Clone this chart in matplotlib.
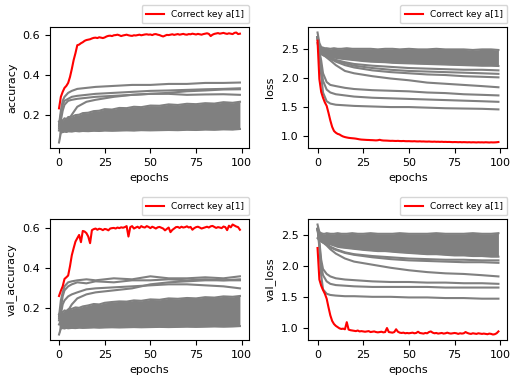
import numpy as np
from matplotlib import pyplot as plt

plt.rcParams['font.size'] = 8

epochs = np.arange(100)
sample_epochs = [0, 1, 2, 3, 5, 7, 10, 15, 20, 30, 40, 50, 60, 70, 80, 90, 99]
# edges of the dense gray bundle
band_epochs = [0, 1, 2, 3, 4, 5, 7, 9, 11, 13, 16, 19, 22, 25, 29, 33, 37, 41, 45,
               50, 55, 60, 65, 70, 75, 80, 85, 90, 95, 99]
label = "Correct key a[1]"

# ---- accuracy ----
acc_red = [0.232, 0.29, 0.315, 0.335, 0.345, 0.36, 0.39, 0.43, 0.475, 0.51,
           0.55, 0.553, 0.56, 0.565, 0.572, 0.576, 0.578, 0.58, 0.584, 0.587,
           0.588, 0.586, 0.59, 0.588, 0.586, 0.589, 0.594, 0.597, 0.598, 0.596,
           0.60, 0.601, 0.603, 0.60, 0.596, 0.599, 0.601, 0.603, 0.60, 0.598,
           0.597, 0.60, 0.599, 0.601, 0.603, 0.60, 0.602, 0.604, 0.605, 0.603,
           0.604, 0.601, 0.605, 0.606, 0.603, 0.601, 0.597, 0.594, 0.598, 0.602,
           0.601, 0.603, 0.605, 0.602, 0.604, 0.606, 0.603, 0.605, 0.607, 0.604,
           0.603, 0.606, 0.605, 0.608, 0.606, 0.604, 0.607, 0.605, 0.603, 0.606,
           0.608, 0.61, 0.607, 0.596, 0.603, 0.607, 0.609, 0.611, 0.608, 0.61,
           0.612, 0.609, 0.607, 0.61, 0.608, 0.606, 0.612, 0.614, 0.606, 0.608]
acc_band_lo = [0.06, 0.11, 0.112, 0.115, 0.113, 0.116, 0.115, 0.118, 0.116, 0.118,
               0.117, 0.119, 0.118, 0.12, 0.119, 0.12, 0.121, 0.12, 0.122, 0.121,
               0.122, 0.123, 0.122, 0.124, 0.123, 0.125, 0.124, 0.126, 0.125, 0.128]
acc_band_hi = [0.165, 0.175, 0.17, 0.182, 0.178, 0.188, 0.19, 0.198, 0.20, 0.208,
               0.21, 0.218, 0.22, 0.228, 0.226, 0.234, 0.233, 0.24, 0.238, 0.246,
               0.245, 0.252, 0.249, 0.255, 0.253, 0.258, 0.256, 0.263, 0.26, 0.265]
acc_g1 = [0.15, 0.22, 0.27, 0.29, 0.31, 0.32, 0.33, 0.335, 0.34, 0.345, 0.35, 0.35, 0.355, 0.355, 0.36, 0.36, 0.362]
acc_g2 = [0.14, 0.20, 0.25, 0.27, 0.28, 0.29, 0.295, 0.30, 0.305, 0.31, 0.315, 0.32, 0.322, 0.325, 0.328, 0.33, 0.333]
acc_g3 = [0.13, 0.17, 0.22, 0.25, 0.27, 0.275, 0.28, 0.285, 0.29, 0.295, 0.30, 0.305, 0.305, 0.30, 0.302, 0.303, 0.30]
acc_g4 = [0.12, 0.14, 0.15, 0.16, 0.17, 0.20, 0.24, 0.265, 0.275, 0.29, 0.30, 0.305, 0.31, 0.318, 0.322, 0.327, 0.328]

# ---- loss ----
loss_red = [2.64, 1.98, 1.76, 1.66, 1.58, 1.52, 1.40, 1.27, 1.16, 1.09,
            1.06, 1.04, 1.03, 1.01, 0.995, 0.985, 0.978, 0.972, 0.968, 0.965,
            0.962, 0.958, 0.952, 0.946, 0.942, 0.94, 0.938, 0.936, 0.935, 0.933,
            0.932, 0.93, 0.928, 0.931, 0.938, 0.93, 0.926, 0.925, 0.924, 0.922,
            0.92, 0.921, 0.919, 0.918, 0.92, 0.917, 0.916, 0.918, 0.915, 0.914,
            0.915, 0.913, 0.912, 0.914, 0.911, 0.91, 0.912, 0.909, 0.91, 0.908,
            0.907, 0.909, 0.906, 0.905, 0.907, 0.904, 0.905, 0.903, 0.905, 0.902,
            0.903, 0.901, 0.902, 0.90, 0.898, 0.90, 0.899, 0.897, 0.899, 0.896,
            0.898, 0.897, 0.895, 0.897, 0.894, 0.896, 0.895, 0.893, 0.896, 0.894,
            0.895, 0.893, 0.896, 0.894, 0.892, 0.895, 0.893, 0.894, 0.896, 0.90]
loss_band_lo = [2.60, 2.45, 2.41, 2.39, 2.38, 2.37, 2.36, 2.35, 2.34, 2.33,
                2.32, 2.31, 2.30, 2.29, 2.28, 2.275, 2.27, 2.26, 2.255, 2.25,
                2.245, 2.24, 2.235, 2.23, 2.225, 2.22, 2.215, 2.21, 2.21, 2.205]
loss_band_hi = [2.78, 2.60, 2.53, 2.52, 2.51, 2.51, 2.50, 2.51, 2.50, 2.50,
                2.51, 2.50, 2.50, 2.50, 2.50, 2.49, 2.50, 2.50, 2.49, 2.50,
                2.49, 2.49, 2.50, 2.49, 2.49, 2.49, 2.48, 2.49, 2.49, 2.48]
loss_g0a = [2.70, 2.50, 2.43, 2.41, 2.38, 2.35, 2.31, 2.27, 2.24, 2.21, 2.19, 2.17, 2.16, 2.15, 2.14, 2.14, 2.13]
loss_g0b = [2.70, 2.50, 2.42, 2.40, 2.37, 2.34, 2.30, 2.25, 2.21, 2.17, 2.14, 2.12, 2.11, 2.10, 2.09, 2.08, 2.07]
loss_g0 = [2.70, 2.50, 2.42, 2.40, 2.37, 2.33, 2.28, 2.22, 2.18, 2.13, 2.10, 2.08, 2.06, 2.05, 2.03, 2.02, 2.01]
loss_g1 = [2.70, 2.50, 2.42, 2.40, 2.35, 2.30, 2.22, 2.12, 2.08, 2.03, 1.99, 1.96, 1.92, 1.90, 1.88, 1.86, 1.84]
loss_g2 = [2.70, 2.45, 2.30, 2.08, 1.93, 1.88, 1.86, 1.83, 1.81, 1.79, 1.78, 1.77, 1.75, 1.74, 1.72, 1.71, 1.70]
loss_g3 = [2.70, 2.45, 2.20, 1.95, 1.80, 1.75, 1.72, 1.70, 1.68, 1.66, 1.65, 1.64, 1.63, 1.62, 1.61, 1.60, 1.59]
loss_g4 = [2.70, 2.40, 2.05, 1.75, 1.60, 1.56, 1.54, 1.53, 1.52, 1.51, 1.50, 1.50, 1.49, 1.48, 1.475, 1.47, 1.46]

# ---- val_accuracy ----
vacc_red = [0.262, 0.288, 0.31, 0.347, 0.355, 0.364, 0.41, 0.465, 0.50, 0.533,
            0.55, 0.566, 0.53, 0.586, 0.583, 0.575, 0.558, 0.525, 0.59, 0.595,
            0.598, 0.592, 0.597, 0.595, 0.59, 0.596, 0.594, 0.589, 0.598, 0.60,
            0.601, 0.598, 0.603, 0.60, 0.604, 0.602, 0.605, 0.61, 0.558, 0.605,
            0.61, 0.598, 0.603, 0.607, 0.60, 0.61, 0.605, 0.603, 0.61, 0.606,
            0.60, 0.607, 0.603, 0.598, 0.604, 0.606, 0.602, 0.598, 0.589, 0.596,
            0.603, 0.58, 0.591, 0.598, 0.605, 0.606, 0.601, 0.607, 0.603, 0.605,
            0.609, 0.603, 0.606, 0.592, 0.60, 0.605, 0.607, 0.603, 0.598, 0.601,
            0.604, 0.607, 0.603, 0.609, 0.611, 0.606, 0.601, 0.605, 0.603, 0.60,
            0.608, 0.605, 0.59, 0.612, 0.604, 0.618, 0.613, 0.608, 0.605, 0.592]
vacc_band_lo = [0.07, 0.10, 0.102, 0.10, 0.103, 0.101, 0.103, 0.102, 0.104, 0.103,
                0.104, 0.105, 0.104, 0.105, 0.106, 0.105, 0.106, 0.107, 0.106, 0.107,
                0.108, 0.107, 0.108, 0.109, 0.108, 0.109, 0.11, 0.109, 0.11, 0.112]
vacc_band_hi = [0.17, 0.185, 0.18, 0.19, 0.187, 0.195, 0.198, 0.205, 0.203, 0.21,
                0.215, 0.222, 0.22, 0.228, 0.232, 0.235, 0.234, 0.24, 0.238, 0.245,
                0.243, 0.25, 0.248, 0.252, 0.25, 0.256, 0.254, 0.26, 0.258, 0.262]
vacc_g1 = [0.16, 0.24, 0.28, 0.31, 0.33, 0.335, 0.34, 0.345, 0.34, 0.35, 0.345, 0.36, 0.35, 0.35, 0.355, 0.35, 0.36]
vacc_g2 = [0.15, 0.20, 0.26, 0.29, 0.31, 0.32, 0.33, 0.325, 0.335, 0.33, 0.34, 0.34, 0.345, 0.34, 0.345, 0.34, 0.345]
vacc_g3 = [0.14, 0.17, 0.22, 0.24, 0.26, 0.27, 0.28, 0.295, 0.30, 0.305, 0.31, 0.315, 0.32, 0.32, 0.315, 0.31, 0.30]
vacc_g4 = [0.12, 0.14, 0.15, 0.17, 0.19, 0.22, 0.25, 0.27, 0.28, 0.29, 0.30, 0.32, 0.33, 0.335, 0.34, 0.34, 0.34]

# ---- val_loss ----
vloss_red = [2.29, 1.78, 1.68, 1.61, 1.55, 1.47, 1.33, 1.20, 1.11, 1.06,
             1.03, 1.01, 0.99, 0.98, 0.985, 0.975, 1.09, 0.97, 0.96, 0.955,
             0.95, 0.945, 0.955, 0.94, 0.945, 0.94, 0.935, 0.94, 0.945, 0.93,
             0.935, 0.94, 0.93, 0.925, 0.93, 0.935, 0.925, 0.93, 0.995, 0.93,
             0.925, 0.92, 0.93, 0.975, 0.935, 0.92, 0.915, 0.92, 0.91, 0.915,
             0.91, 0.915, 0.92, 0.91, 0.915, 0.935, 0.915, 0.91, 0.905, 0.915,
             0.91, 0.93, 0.94, 0.92, 0.91, 0.915, 0.905, 0.91, 0.915, 0.905,
             0.91, 0.92, 0.91, 0.905, 0.91, 0.915, 0.91, 0.90, 0.91, 0.905,
             0.91, 0.93, 0.915, 0.905, 0.90, 0.91, 0.905, 0.90, 0.91, 0.905,
             0.90, 0.905, 0.90, 0.895, 0.905, 0.90, 0.89, 0.895, 0.91, 0.94]
vloss_band_lo = [2.45, 2.42, 2.40, 2.39, 2.38, 2.37, 2.35, 2.33, 2.31, 2.30,
                 2.29, 2.28, 2.27, 2.26, 2.25, 2.24, 2.24, 2.23, 2.22, 2.21,
                 2.20, 2.19, 2.19, 2.18, 2.17, 2.17, 2.16, 2.16, 2.15, 2.15]
vloss_band_hi = [2.67, 2.55, 2.53, 2.52, 2.52, 2.53, 2.52, 2.52, 2.53, 2.52,
                 2.52, 2.53, 2.52, 2.52, 2.53, 2.52, 2.52, 2.52, 2.53, 2.52,
                 2.52, 2.52, 2.53, 2.52, 2.52, 2.52, 2.53, 2.52, 2.52, 2.53]
vloss_g0a = [2.60, 2.45, 2.40, 2.38, 2.35, 2.31, 2.27, 2.22, 2.19, 2.16, 2.14, 2.12, 2.11, 2.10, 2.10, 2.09, 2.09]
vloss_g0 = [2.60, 2.45, 2.40, 2.38, 2.35, 2.30, 2.26, 2.21, 2.18, 2.14, 2.11, 2.09, 2.08, 2.07, 2.06, 2.06, 2.05]
vloss_g1 = [2.60, 2.45, 2.40, 2.38, 2.33, 2.27, 2.20, 2.12, 2.07, 2.02, 1.97, 1.93, 1.90, 1.88, 1.87, 1.85, 1.83]
vloss_g2 = [2.60, 2.40, 2.10, 1.95, 1.87, 1.83, 1.80, 1.78, 1.77, 1.75, 1.74, 1.74, 1.73, 1.73, 1.72, 1.72, 1.71]
vloss_g3 = [2.60, 2.35, 2.00, 1.85, 1.75, 1.71, 1.69, 1.68, 1.67, 1.66, 1.66, 1.66, 1.66, 1.65, 1.65, 1.65, 1.65]
vloss_g4 = [2.60, 2.30, 1.85, 1.62, 1.55, 1.53, 1.52, 1.51, 1.51, 1.50, 1.50, 1.49, 1.49, 1.48, 1.48, 1.47, 1.47]


def plotPanel(ax, red, band_lo, band_hi, grays, ylabel, yticks):
    ax.fill_between(band_epochs, band_lo, band_hi, color="grey", linewidth=0)
    ax.plot(band_epochs, band_lo, color="grey", lw=1.5)
    ax.plot(band_epochs, band_hi, color="grey", lw=1.5)
    for g in grays:
        ax.plot(sample_epochs, g, color="grey", lw=1.5)
    ax.plot(epochs, red, color="r", lw=1.5, label=label)
    ax.set_xlabel("epochs")
    ax.set_ylabel(ylabel)
    ax.set_xticks([0, 25, 50, 75, 100])
    ax.set_yticks(yticks)
    ax.legend(loc="lower right", bbox_to_anchor=(1.0, 1.03), borderaxespad=0,
              borderpad=0.5, fontsize=6.5)


def main():
    fig = plt.figure(figsize=(5.11, 3.76), dpi=100)
    ax1 = fig.add_axes([0.0978, 0.6064, 0.3894, 0.3218])
    ax2 = fig.add_axes([0.6037, 0.6064, 0.3894, 0.3218])
    ax3 = fig.add_axes([0.0978, 0.0957, 0.3894, 0.3218])
    ax4 = fig.add_axes([0.6037, 0.0957, 0.3894, 0.3218])

    plotPanel(ax1, acc_red, acc_band_lo, acc_band_hi,
              [acc_g1, acc_g2, acc_g3, acc_g4], "accuracy", [0.2, 0.4, 0.6])
    plotPanel(ax2, loss_red, loss_band_lo, loss_band_hi,
              [loss_g0a, loss_g0b, loss_g0, loss_g1, loss_g2, loss_g3, loss_g4],
              "loss", [1.0, 1.5, 2.0, 2.5])
    plotPanel(ax3, vacc_red, vacc_band_lo, vacc_band_hi,
              [vacc_g1, vacc_g2, vacc_g3, vacc_g4], "val_accuracy", [0.2, 0.4, 0.6])
    plotPanel(ax4, vloss_red, vloss_band_lo, vloss_band_hi,
              [vloss_g0a, vloss_g0, vloss_g1, vloss_g2, vloss_g3, vloss_g4],
              "val_loss", [1.0, 1.5, 2.0, 2.5])

    fig.savefig("out.png", dpi=100)


main()
